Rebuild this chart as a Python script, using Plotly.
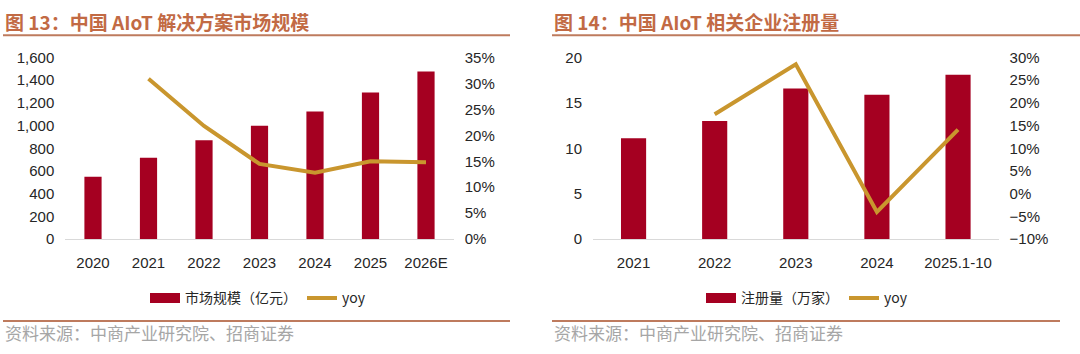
import plotly.graph_objects as go

# ---- data ----
years_a = ["2020", "2021", "2022", "2023", "2024", "2025", "2026E"]
market_size = [549, 716, 872, 998, 1124, 1292, 1476]          # 亿元
market_yoy = [None, 0.309, 0.218, 0.145, 0.128, 0.150, 0.148]

years_b = ["2021", "2022", "2023", "2024", "2025.1-10"]
registrations = [11.1, 13.0, 16.6, 15.9, 18.1]                # 万家
reg_yoy = [None, 0.175, 0.285, -0.040, 0.141]

title_a = "图 13：中国 AIoT 解决方案市场规模"
title_b = "图 14：中国 AIoT 相关企业注册量"
source = "资料来源：中商产业研究院、招商证券"

# ---- style ----
BAR = "#A50021"
LINE = "#C9962E"
TITLE_C = "#C26A44"
RULE_C = "#BE7B5E"
TXT = "#262626"
FONT = "Liberation Sans, Arial, Noto Sans CJK SC, sans-serif"
CJK = "Noto Sans CJK SC, sans-serif"

W, H = 1080, 354
def px(x):
    return x / W
def py(y):
    return 1 - y / H

fig = go.Figure()

def add_pair(xs, bars, yoy, bar_name, xa, yl, yr, leg):
    fig.add_trace(go.Bar(x=xs, y=bars, name=bar_name, showlegend=False,
                         legendgroup=leg + "bar",
                         marker=dict(color=BAR, line=dict(width=0)),
                         xaxis=xa, yaxis=yl))
    # legend proxy: wide red swatch like the original legend key
    fig.add_trace(go.Scatter(x=[None], y=[None], name=bar_name, mode="lines",
                             legendgroup=leg + "bar",
                             line=dict(color=BAR, width=10),
                             xaxis=xa, yaxis=yl, legend=leg))
    fig.add_trace(go.Scatter(x=xs, y=yoy, name="yoy", mode="lines",
                             line=dict(color=LINE, width=4),
                             xaxis=xa, yaxis=yr, legend=leg))

add_pair(years_a, market_size, market_yoy, "市场规模（亿元）", "x", "y", "y2", "legend")
add_pair(years_b, registrations, reg_yoy, "注册量（万家）", "x2", "y3", "y4", "legend2")

ydom = [py(241.7), py(51)]
tickfont = dict(family=FONT, size=15, color=TXT)

xcommon = dict(showgrid=False, zeroline=False, showline=True, linecolor="#D9D9D9",
               linewidth=1, ticks="", tickfont=tickfont, ticklabelstandoff=10,
               fixedrange=True)
ycommon = dict(showgrid=False, zeroline=False, showline=False, ticks="",
               tickfont=tickfont, ticklabelstandoff=10, fixedrange=True)

legfont = dict(family=CJK, size=14, color=TXT)
fig.update_layout(
    width=W, height=H,
    margin=dict(l=0, r=0, t=0, b=0),
    paper_bgcolor="white", plot_bgcolor="white",
    bargap=0.69,
    xaxis=dict(domain=[px(65.25), px(453.75)], anchor="y", **xcommon),
    yaxis=dict(domain=ydom, anchor="x", range=[0, 1600], dtick=200,
               tickformat=",", **ycommon),
    yaxis2=dict(overlaying="y", side="right", anchor="x", range=[0, 0.35],
                dtick=0.05, tickformat=".0%", **ycommon),
    xaxis2=dict(domain=[px(593), px(998.6)], anchor="y3", **xcommon),
    yaxis3=dict(domain=ydom, anchor="x2", range=[0, 20], dtick=5, **ycommon),
    yaxis4=dict(overlaying="y3", side="right", anchor="x2", range=[-0.10, 0.30],
                dtick=0.05, tickformat=".0%", **ycommon),
    legend=dict(orientation="h", x=px(258), y=py(304), xanchor="center",
                yanchor="middle", font=legfont,
                bgcolor="rgba(0,0,0,0)", itemwidth=30),
    legend2=dict(orientation="h", x=px(807), y=py(304), xanchor="center",
                 yanchor="middle", font=legfont,
                 bgcolor="rgba(0,0,0,0)", itemwidth=30),
    showlegend=True,
)

# titles, rules, sources
for x0, x1, xt, t in [(3, 510, 3, title_a), (552, 1080, 552, title_b)]:
    fig.add_annotation(x=px(xt), y=py(13), xref="paper", yref="paper",
                       text="<b>" + t + "</b>", showarrow=False,
                       xanchor="left", yanchor="middle",
                       font=dict(family=CJK, size=19, color=TITLE_C))
    fig.add_shape(type="line", xref="paper", yref="paper",
                  x0=px(x0), x1=px(x1), y0=py(27.7), y1=py(27.7),
                  line=dict(color=RULE_C, width=2))

for x0, x1 in [(3, 510), (552, 1060)]:
    fig.add_shape(type="line", xref="paper", yref="paper",
                  x0=px(x0), x1=px(x1), y0=py(327.7), y1=py(327.7),
                  line=dict(color=RULE_C, width=2))
    fig.add_annotation(x=px(x0), y=py(340), xref="paper", yref="paper",
                       text=source, showarrow=False, xanchor="left",
                       yanchor="middle",
                       font=dict(family=CJK, size=17, color="#A6A6A6"))

fig.write_html("out.html")
